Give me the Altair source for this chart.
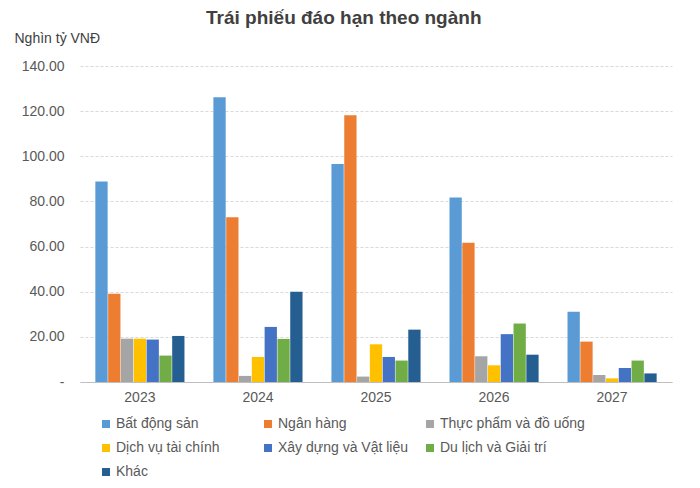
import altair as alt
import pandas as pd

years = ["2023", "2024", "2025", "2026", "2027"]
sectors = [
    "Bất động sản",
    "Ngân hàng",
    "Thực phẩm và đồ uống",
    "Dịch vụ tài chính",
    "Xây dựng và Vật liệu",
    "Du lịch và Giải trí",
    "Khác",
]
colors = ["#5B9BD5", "#ED7D31", "#A5A5A5", "#FFC000", "#4472C4", "#70AD47", "#255E91"]

bat_dong_san = [88.8, 126.1, 96.6, 81.7, 31.1]
ngan_hang = [39.1, 73.0, 118.2, 61.7, 17.9]
thuc_pham = [19.2, 2.7, 2.4, 11.4, 3.1]
dich_vu_tc = [19.2, 11.1, 16.7, 7.4, 1.6]
xay_dung = [18.8, 24.4, 11.1, 21.2, 6.2]
du_lich = [11.7, 19.1, 9.5, 25.9, 9.5]
khac = [20.4, 40.0, 23.2, 12.1, 3.8]

series = [bat_dong_san, ngan_hang, thuc_pham, dich_vu_tc, xay_dung, du_lich, khac]

rows = []
for name, vals in zip(sectors, series):
    for y, v in zip(years, vals):
        rows.append({"Năm": y, "Ngành": name, "Giá trị": v})
df = pd.DataFrame(rows)

font = "Liberation Sans"

chart = (
    alt.Chart(df)
    .mark_bar()
    .encode(
        x=alt.X(
            "Năm:N",
            title=None,
            scale=alt.Scale(paddingInner=0.245, paddingOuter=0.13),
            axis=alt.Axis(
                labelAngle=0,
                labelFontSize=14,
                labelColor="#595959",
                labelPadding=8,
                ticks=False,
                domainColor="#BFBFBF",
                grid=False,
            ),
        ),
        xOffset=alt.XOffset("Ngành:N", sort=sectors, scale=alt.Scale(paddingInner=0.04)),
        y=alt.Y(
            "Giá trị:Q",
            title="Nghìn tỷ VNĐ",
            scale=alt.Scale(domain=[0, 140]),
            axis=alt.Axis(
                values=[0, 20, 40, 60, 80, 100, 120, 140],
                labelExpr="datum.value == 0 ? '-' : format(datum.value, '.2f')",
                labelFontSize=14,
                labelColor="#595959",
                labelPadding=16,
                ticks=False,
                domain=False,
                gridDash=[3, 2],
                gridColor="#D9D9D9",
                titleAngle=0,
                titleAlign="left",
                titleBaseline="alphabetic",
                titleX=-66,
                titleY=-24,
                titleFontSize=14,
                titleFontWeight="normal",
                titleColor="#404040",
            ),
        ),
        color=alt.Color(
            "Ngành:N",
            sort=sectors,
            scale=alt.Scale(domain=sectors, range=colors),
            legend=alt.Legend(
                title=None,
                orient="none",
                direction="horizontal",
                legendX=19,
                legendY=351,
                columns=3,
                gridAlign="all",
                columnPadding=-9,
                rowPadding=10,
                symbolType="square",
                symbolSize=64,
                symbolStrokeWidth=0,
                labelFontSize=14,
                labelColor="#595959",
                labelOffset=3,
                labelLimit=300,
                padding=0,
            ),
        ),
    )
    .properties(
        width=592,
        height=316,
        title=alt.Title(
            "Trái phiếu đáo hạn theo ngành",
            anchor="start",
            dx=192,
            offset=3,
            fontSize=19,
            fontWeight="bold",
            color="#404040",
        ),
        autosize=alt.AutoSizeParams(type="none"),
        padding={"left": 72, "top": 58, "right": 20, "bottom": 98},
    )
    .configure(font=font, background="white")
    .configure_view(stroke=None)
)

chart.save("out.html", embed_options={"renderer": "svg", "actions": False})
